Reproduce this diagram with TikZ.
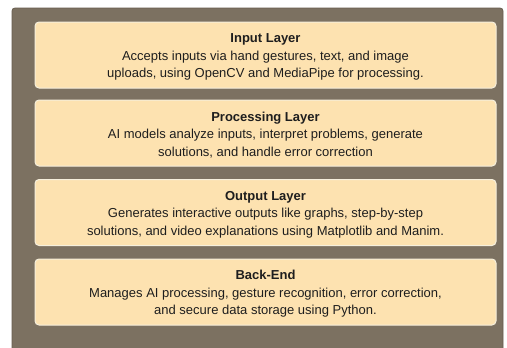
\documentclass[tikz,border=0pt]{standalone}
\usepackage{fontspec}
\setmainfont{Liberation Sans}
\definecolor{outerbg}{HTML}{7C7161}
\definecolor{outerln}{HTML}{675D4E}
\definecolor{boxfill}{HTML}{FDE2B0}
\definecolor{boxln}{HTML}{F6EFDC}
\definecolor{txt}{HTML}{1E1E1E}
\begin{document}
\begin{tikzpicture}[x=1pt,y=1pt,
  layer/.style={draw=boxln, line width=1pt, fill=boxfill, rounded corners=4pt,
    minimum width=461pt, minimum height=66pt, inner sep=0pt},
  layertext/.style={align=center, text=txt, inner sep=0pt,
    font=\fontsize{13}{17.5}\selectfont}]
\useasboundingbox (0,0) rectangle (507,-348);
\fill[white] (0,0) rectangle (507,-348);
\draw[outerln, fill=outerbg, line width=0.8pt, rounded corners=3pt] (12,-8) rectangle (503,-352);
\node[layer] (input) at (265.5,-55) {};
\node[layer] (proc) at (265.5,-133) {};
\node[layer] (output) at (265.5,-212.5) {};
\node[layer] (backend) at (265.5,-292) {};
\node[layertext] (inputt) at ([yshift=-2pt]input.center) {\textbf{Input Layer}\\Accepts inputs via hand gestures, text, and image\\uploads, using OpenCV and MediaPipe for processing.};
\node[layertext] (proct) at ([yshift=-2pt]proc.center) {\textbf{Processing Layer}\\AI models analyze inputs, interpret problems, generate\\solutions, and handle error correction};
\node[layertext] (outputt) at ([yshift=-2pt]output.center) {\textbf{Output Layer}\\Generates interactive outputs like graphs, step-by-step\\solutions, and video explanations using Matplotlib and Manim.};
\node[layertext] (backendt) at ([yshift=-2pt]backend.center) {\textbf{Back-End}\\Manages AI processing, gesture recognition, error correction,\\and secure data storage using Python.};
\end{tikzpicture}
\end{document}
